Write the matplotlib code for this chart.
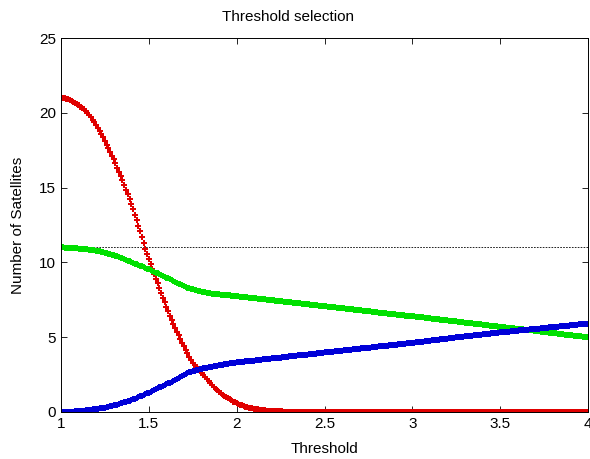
import numpy as np
import matplotlib
matplotlib.use('Agg')
import matplotlib.pyplot as plt

plt.rcParams['font.family'] = ['Liberation Sans', 'DejaVu Sans']

# threshold grid, step 0.01
threshold = np.linspace(1, 4, 301)

# values, one row per 0.1 of threshold
red_vals = [
    21.00, 20.98, 20.96, 20.93, 20.89, 20.85, 20.80, 20.74, 20.67, 20.59,
    20.50, 20.42, 20.34, 20.25, 20.14, 20.00, 19.85, 19.69, 19.52, 19.36,
    19.20, 19.00, 18.80, 18.59, 18.36, 18.10, 17.86, 17.62, 17.38, 17.14,
    16.90, 16.62, 16.34, 16.06, 15.78, 15.50, 15.18, 14.86, 14.54, 14.22,
    13.90, 13.54, 13.18, 12.82, 12.46, 12.10, 11.70, 11.30, 10.92, 10.56,
    10.20, 9.88, 9.56, 9.24, 8.92, 8.60, 8.28, 7.96, 7.64, 7.32,
    7.00, 6.72, 6.44, 6.16, 5.88, 5.60, 5.36, 5.12, 4.88, 4.64,
    4.40, 4.16, 3.92, 3.70, 3.50, 3.30, 3.16, 3.02, 2.88, 2.74,
    2.60, 2.46, 2.32, 2.18, 2.05, 1.92, 1.80, 1.68, 1.56, 1.45,
    1.35, 1.25, 1.16, 1.07, 0.99, 0.91, 0.84, 0.77, 0.70, 0.64,
    0.58, 0.53, 0.48, 0.44, 0.40, 0.36, 0.33, 0.30, 0.27, 0.24,
    0.22, 0.20, 0.17, 0.15, 0.13, 0.12, 0.11, 0.10, 0.09, 0.08,
    0.07, 0.06, 0.06, 0.05, 0.05, 0.04, 0.04, 0.03, 0.03, 0.02,
    0.02, 0.02, 0.01, 0.01, 0.01, 0, 0, 0, 0, 0,
    0, 0, 0, 0, 0, 0, 0, 0, 0, 0,
    0, 0, 0, 0, 0, 0, 0, 0, 0, 0,
    0, 0, 0, 0, 0, 0, 0, 0, 0, 0,
    0, 0, 0, 0, 0, 0, 0, 0, 0, 0,
    0, 0, 0, 0, 0, 0, 0, 0, 0, 0,
    0, 0, 0, 0, 0, 0, 0, 0, 0, 0,
    0, 0, 0, 0, 0, 0, 0, 0, 0, 0,
    0, 0, 0, 0, 0, 0, 0, 0, 0, 0,
    0, 0, 0, 0, 0, 0, 0, 0, 0, 0,
    0, 0, 0, 0, 0, 0, 0, 0, 0, 0,
    0, 0, 0, 0, 0, 0, 0, 0, 0, 0,
    0, 0, 0, 0, 0, 0, 0, 0, 0, 0,
    0, 0, 0, 0, 0, 0, 0, 0, 0, 0,
    0, 0, 0, 0, 0, 0, 0, 0, 0, 0,
    0, 0, 0, 0, 0, 0, 0, 0, 0, 0,
    0, 0, 0, 0, 0, 0, 0, 0, 0, 0,
    0,
]

green_vals = [
    11.00, 11.00, 10.99, 10.99, 10.98, 10.97, 10.96, 10.95, 10.94, 10.93,
    10.92, 10.91, 10.90, 10.89, 10.88, 10.87, 10.85, 10.84, 10.82, 10.80,
    10.78, 10.76, 10.73, 10.71, 10.68, 10.65, 10.62, 10.59, 10.55, 10.52,
    10.48, 10.44, 10.40, 10.36, 10.31, 10.27, 10.22, 10.17, 10.12, 10.07,
    10.02, 9.97, 9.92, 9.88, 9.83, 9.78, 9.73, 9.68, 9.63, 9.58,
    9.53, 9.48, 9.43, 9.38, 9.32, 9.27, 9.21, 9.16, 9.10, 9.05,
    8.99, 8.93, 8.88, 8.82, 8.76, 8.70, 8.64, 8.58, 8.53, 8.47,
    8.42, 8.37, 8.32, 8.28, 8.24, 8.20, 8.17, 8.14, 8.11, 8.08,
    8.05, 8.03, 8.00, 7.98, 7.96, 7.94, 7.92, 7.91, 7.89, 7.88,
    7.86, 7.85, 7.84, 7.82, 7.81, 7.80, 7.79, 7.78, 7.76, 7.75,
    7.74, 7.73, 7.71, 7.70, 7.69, 7.67, 7.66, 7.65, 7.63, 7.62,
    7.61, 7.59, 7.58, 7.57, 7.55, 7.54, 7.53, 7.51, 7.50, 7.49,
    7.47, 7.46, 7.45, 7.43, 7.42, 7.41, 7.39, 7.38, 7.37, 7.35,
    7.34, 7.33, 7.31, 7.30, 7.29, 7.27, 7.26, 7.25, 7.23, 7.22,
    7.21, 7.19, 7.18, 7.17, 7.15, 7.14, 7.13, 7.11, 7.10, 7.09,
    7.08, 7.06, 7.05, 7.04, 7.02, 7.01, 6.99, 6.98, 6.97, 6.95,
    6.94, 6.93, 6.91, 6.90, 6.88, 6.87, 6.86, 6.84, 6.83, 6.82,
    6.80, 6.79, 6.77, 6.76, 6.75, 6.73, 6.72, 6.71, 6.69, 6.68,
    6.66, 6.65, 6.64, 6.62, 6.61, 6.60, 6.58, 6.57, 6.55, 6.54,
    6.53, 6.51, 6.50, 6.48, 6.47, 6.46, 6.44, 6.43, 6.42, 6.41,
    6.40, 6.39, 6.37, 6.36, 6.34, 6.33, 6.32, 6.30, 6.29, 6.27,
    6.26, 6.25, 6.23, 6.22, 6.20, 6.19, 6.18, 6.16, 6.15, 6.13,
    6.12, 6.11, 6.09, 6.08, 6.06, 6.05, 6.04, 6.02, 6.01, 5.99,
    5.98, 5.97, 5.95, 5.94, 5.92, 5.91, 5.90, 5.88, 5.87, 5.85,
    5.84, 5.83, 5.81, 5.80, 5.78, 5.77, 5.76, 5.74, 5.73, 5.71,
    5.70, 5.69, 5.67, 5.66, 5.64, 5.63, 5.62, 5.60, 5.59, 5.57,
    5.56, 5.55, 5.53, 5.52, 5.50, 5.49, 5.48, 5.46, 5.45, 5.43,
    5.42, 5.41, 5.39, 5.38, 5.36, 5.35, 5.34, 5.32, 5.31, 5.29,
    5.28, 5.27, 5.25, 5.24, 5.22, 5.21, 5.20, 5.18, 5.17, 5.15,
    5.14, 5.13, 5.11, 5.10, 5.08, 5.07, 5.06, 5.04, 5.03, 5.01,
    5.00,
]

blue_vals = [
    0.00, 0.00, 0.00, 0.01, 0.01, 0.02, 0.03, 0.03, 0.04, 0.05,
    0.06, 0.07, 0.08, 0.09, 0.11, 0.12, 0.14, 0.15, 0.17, 0.18,
    0.20, 0.22, 0.24, 0.26, 0.28, 0.30, 0.33, 0.36, 0.38, 0.41,
    0.44, 0.47, 0.50, 0.54, 0.57, 0.60, 0.64, 0.68, 0.72, 0.76,
    0.80, 0.85, 0.90, 0.94, 0.99, 1.04, 1.09, 1.14, 1.20, 1.25,
    1.30, 1.36, 1.41, 1.47, 1.52, 1.58, 1.64, 1.69, 1.75, 1.80,
    1.86, 1.92, 1.97, 2.03, 2.09, 2.15, 2.21, 2.28, 2.34, 2.41,
    2.48, 2.54, 2.60, 2.65, 2.70, 2.74, 2.77, 2.80, 2.83, 2.86,
    2.89, 2.92, 2.94, 2.96, 2.99, 3.01, 3.04, 3.06, 3.08, 3.10,
    3.13, 3.15, 3.17, 3.19, 3.21, 3.23, 3.25, 3.26, 3.28, 3.30,
    3.31, 3.32, 3.34, 3.35, 3.36, 3.38, 3.39, 3.40, 3.42, 3.43,
    3.44, 3.46, 3.47, 3.48, 3.50, 3.51, 3.52, 3.54, 3.55, 3.56,
    3.58, 3.59, 3.60, 3.62, 3.63, 3.64, 3.66, 3.67, 3.68, 3.70,
    3.71, 3.72, 3.74, 3.75, 3.76, 3.78, 3.79, 3.80, 3.82, 3.83,
    3.84, 3.86, 3.87, 3.88, 3.90, 3.91, 3.92, 3.94, 3.95, 3.96,
    3.98, 3.99, 4.00, 4.02, 4.03, 4.04, 4.05, 4.07, 4.08, 4.09,
    4.11, 4.12, 4.13, 4.15, 4.16, 4.17, 4.18, 4.20, 4.21, 4.22,
    4.24, 4.25, 4.26, 4.28, 4.29, 4.30, 4.31, 4.33, 4.34, 4.35,
    4.37, 4.38, 4.39, 4.41, 4.42, 4.43, 4.44, 4.46, 4.47, 4.48,
    4.50, 4.51, 4.52, 4.54, 4.55, 4.56, 4.57, 4.59, 4.60, 4.61,
    4.63, 4.64, 4.66, 4.67, 4.68, 4.70, 4.71, 4.73, 4.74, 4.75,
    4.77, 4.78, 4.80, 4.81, 4.82, 4.84, 4.85, 4.87, 4.88, 4.89,
    4.91, 4.92, 4.94, 4.95, 4.96, 4.98, 4.99, 5.01, 5.02, 5.03,
    5.05, 5.06, 5.08, 5.09, 5.10, 5.12, 5.13, 5.15, 5.16, 5.17,
    5.19, 5.20, 5.22, 5.23, 5.24, 5.26, 5.27, 5.29, 5.30, 5.31,
    5.32, 5.33, 5.35, 5.36, 5.37, 5.38, 5.39, 5.40, 5.42, 5.43,
    5.44, 5.45, 5.46, 5.47, 5.49, 5.50, 5.51, 5.52, 5.53, 5.54,
    5.56, 5.57, 5.58, 5.59, 5.60, 5.61, 5.63, 5.64, 5.65, 5.66,
    5.67, 5.68, 5.70, 5.71, 5.72, 5.73, 5.74, 5.75, 5.77, 5.78,
    5.79, 5.80, 5.81, 5.82, 5.84, 5.85, 5.86, 5.87, 5.88, 5.89,
    5.90,
]

ref_level = 11

fig = plt.figure(figsize=(5.9, 4.59), dpi=100)
ax = fig.add_axes([0.1034, 0.1024, 0.8932, 0.8148])

ax.axhline(ref_level, color='black', linestyle=(0, (2, 1.5)), linewidth=0.6)
ax.plot(threshold, red_vals, linestyle='none', marker='P', markersize=4.5,
        markeredgewidth=0, color='#e00000')
ax.plot(threshold, green_vals, linestyle='none', marker='P', markersize=4.5,
        markeredgewidth=0, color='#00e000')
ax.plot(threshold, blue_vals, linestyle='none', marker='P', markersize=4.5,
        markeredgewidth=0, color='#0000d8')

ax.set_xlim(1, 4)
ax.set_ylim(0, 25)
ax.set_xticks([1, 1.5, 2, 2.5, 3, 3.5, 4])
ax.set_xticklabels(['1', '1.5', '2', '2.5', '3', '3.5', '4'])
ax.set_yticks([0, 5, 10, 15, 20, 25])
ax.tick_params(direction='in', top=True, right=True, labelsize=11, length=4, width=0.6)
for s in ax.spines.values():
    s.set_linewidth(0.7)

# title sits a bit left of centre in the original
ax.set_title('Threshold selection', fontsize=11, pad=12, x=0.431)
ax.set_xlabel('Threshold', fontsize=11, labelpad=8)
ax.set_ylabel('Number of Satellites', fontsize=11, labelpad=10)

fig.savefig('out.png', dpi=100)
